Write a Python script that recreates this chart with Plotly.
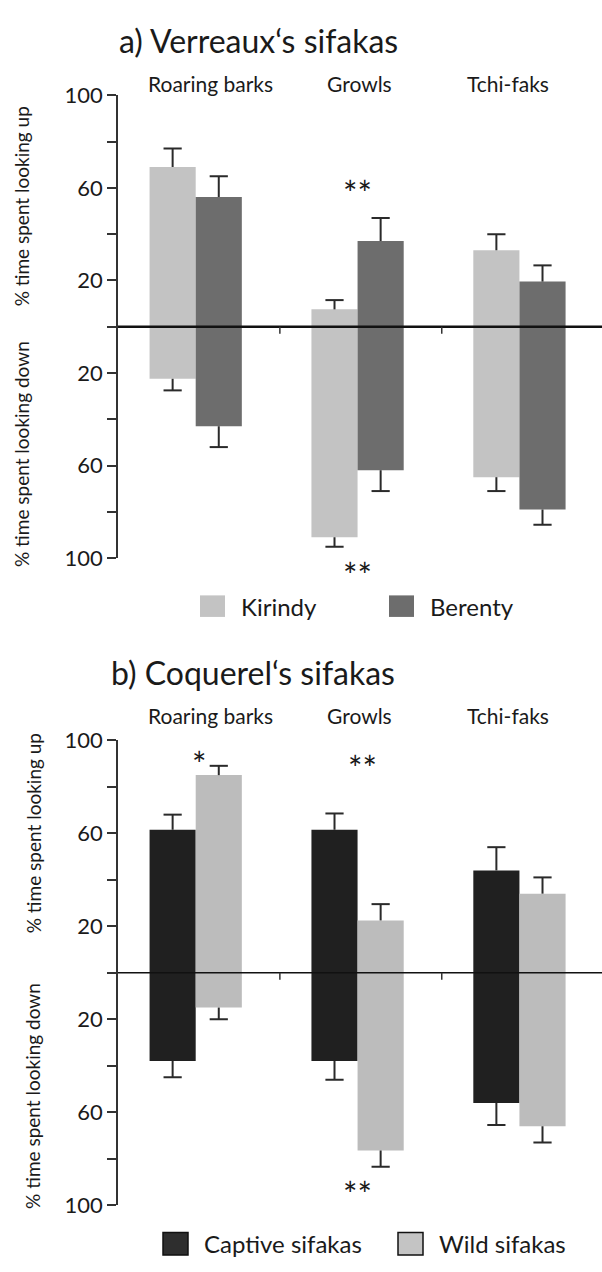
import plotly.graph_objects as go

W, H = 602, 1272
FONT = "Lato"

categories = ["Roaring barks", "Growls", "Tchi-faks"]

# Panel a: Verreaux's sifakas
a_names = ["Kirindy", "Berenty"]
kir_up = [69, 7.5, 33]
kir_up_se = [8, 4, 7]
ber_up = [56, 37, 19.5]
ber_up_se = [9, 10, 7]
kir_down = [22.5, 91, 65]
kir_down_se = [5, 4, 6]
ber_down = [43, 62, 79]
ber_down_se = [9, 9, 6.5]

# Panel b: Coquerel's sifakas
b_names = ["Captive sifakas", "Wild sifakas"]
cap_up = [61.5, 61.5, 44]
cap_up_se = [6.5, 7, 10]
wild_up = [85, 22.5, 34]
wild_up_se = [4, 7, 7]
cap_down = [38, 38, 56]
cap_down_se = [7, 8, 9.5]
wild_down = [15, 76.5, 66]
wild_down_se = [5, 7, 7]

tick_vals = [-100, -80, -60, -40, -20, 0, 20, 40, 60, 80, 100]
tick_text = ["100", "", "60", "", "20", "", "20", "", "60", "", "100"]

KIR, BER = "#c3c3c3", "#6d6d6d"
CAP, WILD = "#202020", "#bcbcbc"

BW = 0.285
OFF = BW / 2


def px(x):
    return x / W


def py(y):
    return 1 - y / H


fig = go.Figure()


def add_series(xa, ya, vals, ses, offset, color, sign):
    xs = [i + offset for i in range(len(vals))]
    ys = [sign * v for v in vals]
    fig.add_trace(go.Bar(x=xs, y=ys, width=BW, marker=dict(color=color, line=dict(width=0)),
                         xaxis=xa, yaxis=ya, showlegend=False, hoverinfo="skip"))
    lx, ly = [], []
    tx, ty = [], []
    for x, v, s in zip(xs, vals, ses):
        lx += [x, x, None]
        ly += [sign * v, sign * (v + s), None]
        tx.append(x)
        ty.append(sign * (v + s))
    fig.add_trace(go.Scatter(x=lx, y=ly, mode="lines", line=dict(color="#2a2a2a", width=2),
                             xaxis=xa, yaxis=ya, showlegend=False, hoverinfo="skip"))
    fig.add_trace(go.Scatter(x=tx, y=ty, mode="markers",
                             marker=dict(symbol="line-ew", size=13, line=dict(color="#2a2a2a", width=2)),
                             xaxis=xa, yaxis=ya, showlegend=False, hoverinfo="skip"))


add_series("x", "y", kir_up, kir_up_se, -OFF, KIR, 1)
add_series("x", "y", ber_up, ber_up_se, OFF, BER, 1)
add_series("x", "y", kir_down, kir_down_se, -OFF, KIR, -1)
add_series("x", "y", ber_down, ber_down_se, OFF, BER, -1)

add_series("x2", "y2", cap_up, cap_up_se, -OFF, CAP, 1)
add_series("x2", "y2", wild_up, wild_up_se, OFF, WILD, 1)
add_series("x2", "y2", cap_down, cap_down_se, -OFF, CAP, -1)
add_series("x2", "y2", wild_down, wild_down_se, OFF, WILD, -1)

xdom = [px(118), 1]
ydom_a = [py(556), py(83)]
ydom_b = [py(1217), py(742)]
xr = [-0.48, 2.51]

xcommon = dict(range=xr, showline=False, showgrid=False, zeroline=False, showticklabels=False,
               ticks="", fixedrange=True)
ycommon = dict(range=[-100, 100], tickvals=tick_vals, ticktext=tick_text, ticks="outside",
               ticklen=9, tickwidth=1.5, tickcolor="#333", showline=True, linecolor="#333",
               linewidth=1.5, showgrid=False, zeroline=False,
               tickfont=dict(family=FONT, size=22, color="#1a1a1a"))

fig.update_layout(
    width=W, height=H, autosize=False,
    margin=dict(l=0, r=0, t=0, b=0),
    paper_bgcolor="white", plot_bgcolor="white",
    barmode="overlay",
    font=dict(family=FONT, color="#1a1a1a"),
    xaxis=dict(domain=xdom, anchor="y", **xcommon),
    yaxis=dict(domain=ydom_a, anchor="x", **ycommon),
    xaxis2=dict(domain=xdom, anchor="y2", **xcommon),
    yaxis2=dict(domain=ydom_b, anchor="x2", **ycommon),
)

shapes = []
annos = []

label_x = [210, 359, 508]  # header label centres (px)

# zero lines and category separators
for xa, ya, lw in (("x", "y", 2.5), ("x2", "y2", 1.6)):
    shapes.append(dict(type="line", xref=f"{xa} domain", yref=ya, x0=0, x1=1, y0=0, y1=0,
                       line=dict(color="#111", width=lw)))
    for k in range(len(categories) - 1):
        shapes.append(dict(type="line", xref=xa, yref=ya, x0=k + 0.52, x1=k + 0.52, y0=0, y1=-3,
                           line=dict(color="#333", width=1.5)))
    gap = 12 if ya == "y" else 25
    for i, c in enumerate(categories):
        annos.append(dict(text=c, xref="paper", yref=f"{ya} domain", x=px(label_x[i]), y=1, yshift=gap,
                          showarrow=False, font=dict(size=21), xanchor="center", yanchor="middle"))

# titles
annos.append(dict(text="a) Verreaux‘s sifakas", xref="paper", yref="paper", x=px(117), y=py(27),
                  xanchor="left", yanchor="middle", showarrow=False, font=dict(size=32)))
annos.append(dict(text="b) Coquerel‘s sifakas", xref="paper", yref="paper", x=px(109), y=py(673),
                  xanchor="left", yanchor="middle", showarrow=False, font=dict(size=32)))

# y titles
for text, ya, yv, xx in (("% time spent looking up", "y", 52, 21), ("% time spent looking down", "y", -55, 21),
                         ("% time spent looking up", "y2", 60, 33), ("% time spent looking down", "y2", -53, 33)):
    annos.append(dict(text=text, xref="paper", yref=ya, x=px(xx), y=yv, textangle=-90,
                      xanchor="center", yanchor="middle", showarrow=False, font=dict(size=19)))

# significance markers
STAR = 34
annos.append(dict(text="**", xref="x", yref="y", x=1, y=62, showarrow=False,
                  font=dict(size=STAR), yshift=-9))
annos.append(dict(text="**", xref="x", yref="y", x=1, y=-100, showarrow=False, font=dict(size=STAR), yshift=-16))
annos.append(dict(text="*", xref="x2", yref="y2", x=0.02, y=94, showarrow=False, font=dict(size=STAR), yshift=-9))
annos.append(dict(text="**", xref="x2", yref="y2", x=1.03, y=92, showarrow=False, font=dict(size=STAR), yshift=-9))
annos.append(dict(text="**", xref="x2", yref="y2", x=1, y=-91, showarrow=False, font=dict(size=STAR), yshift=-9))


# legends
def legend_item(x0, y0, y1, color, label, border):
    shapes.append(dict(type="rect", xref="paper", yref="paper", x0=px(x0), x1=px(x0 + 25),
                       y0=py(y1), y1=py(y0), fillcolor=color,
                       line=dict(color="#111" if border else color, width=1.5 if border else 0)))
    annos.append(dict(text=label, xref="paper", yref="paper", x=px(x0 + 39), y=py((y0 + y1) / 2),
                      xanchor="left", yanchor="middle", showarrow=False, font=dict(size=24)))


legend_item(200, 594, 616, KIR, a_names[0], False)
legend_item(389, 594, 616, BER, a_names[1], False)
legend_item(163, 1245, 1268, "#2e2e2e", b_names[0], True)
legend_item(398, 1245, 1268, "#c4c4c4", b_names[1], True)

fig.update_layout(shapes=shapes, annotations=annos)
fig.write_html("out.html", config={"displayModeBar": False},
               post_script="document.body.style.margin='0';document.body.style.overflow='hidden';")
